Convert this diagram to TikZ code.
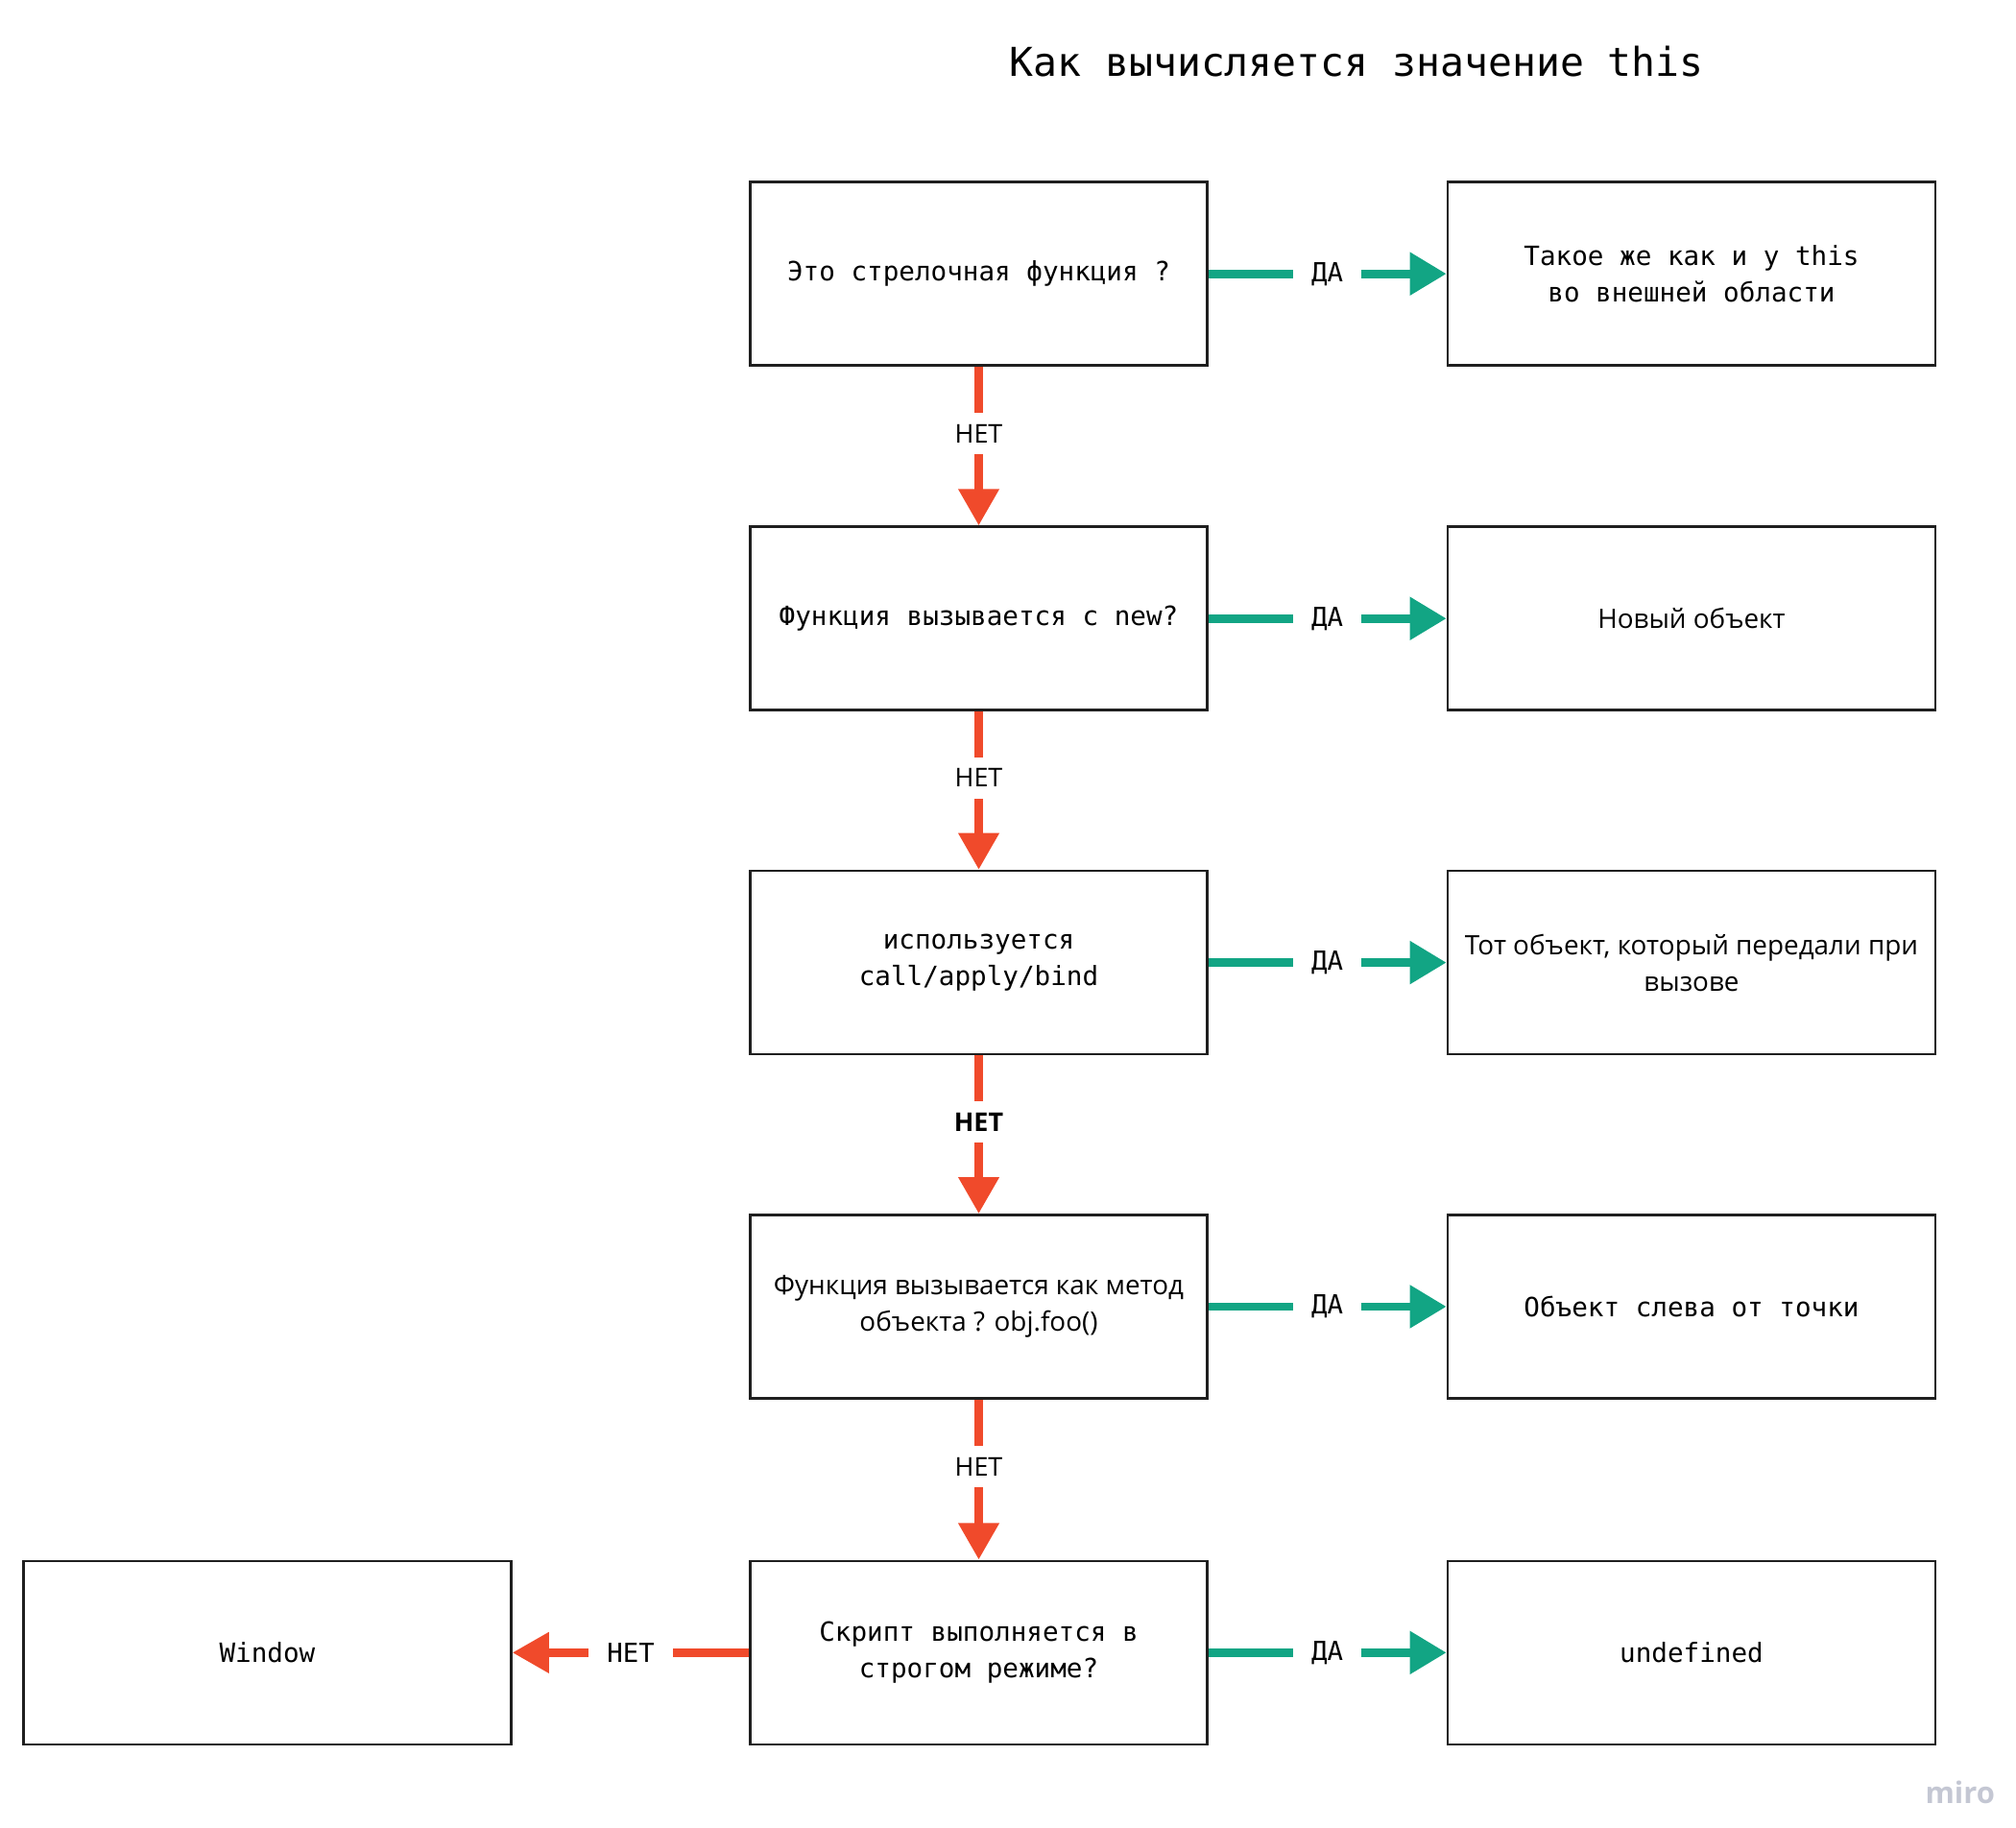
\documentclass[tikz,border=0pt]{standalone}
\usepackage{fontspec}
\setmainfont{Open Sans}
\newfontfamily\monofont{DejaVu Sans Mono}
\usetikzlibrary{arrows.meta}
\definecolor{miroGreen}{HTML}{12A584}
\definecolor{miroRed}{HTML}{F04A2B}
\definecolor{miroGray}{HTML}{C4C7D3}
\tikzset{
  box/.style={draw=black!88, line width=1.1pt, minimum width=7.02cm, minimum height=2.82cm, align=center, inner sep=0pt},
  wide/.style={box, minimum width=7.5cm},
  mono/.style={font=\monofont\fontsize{11.6}{16}\selectfont},
  sans/.style={font=\fontsize{11.7}{16}\selectfont},
  yes/.style={draw=miroGreen, line width=3.7pt, -{Triangle[length=16pt,width=18pt]}},
  no/.style={draw=miroRed, line width=3.7pt, -{Triangle[length=16pt,width=17pt]}},
  yeslabel/.style={fill=white, text=black, inner xsep=8pt, inner ysep=4pt, font=\monofont\fontsize{11.5}{14}\selectfont},
  nolabel/.style={fill=white, text=black, inner xsep=6pt, inner ysep=5pt, text height=1.5ex, text depth=0pt, font=\fontsize{11.3}{14}\selectfont}
}
\begin{document}
\begin{tikzpicture}[x=0.02cm, y=-0.02cm]
\useasboundingbox (0,0) rectangle (1550,1405.3);
\node (title) at (1043,47) {\monofont\fontsize{17.4}{20}\selectfont Как вычисляется значение this};

\node[box, mono] (q1) at (752.5,210.5) {Это стрелочная функция ?};
\node[box, mono] (q2) at (752.5,475.5) {Функция вызывается с new?};
\node[box, mono] (q3) at (752.5,740) {используется\\call/apply/bind};
\node[box, sans] (q4) at (752.5,1004.5) {Функция вызывается как метод\\объекта ? obj.foo()};
\node[box, mono] (q5) at (752.5,1270.5) {Скрипт выполняется в\\строгом режиме?};

\node[wide, mono] (a1) at (1300.5,210.5) {Такое же как и у this\\во внешней области};
\node[wide, sans] (a2) at (1300.5,475.5) {Новый объект};
\node[wide, sans] (a3) at (1300.5,740) {Тот объект, который передали при\\вызове};
\node[wide, mono] (a4) at (1300.5,1004.5) {Объект слева от точки};
\node[wide, mono] (a5) at (1300.5,1270.5) {undefined};
\node[wide, mono] (win) at (205.5,1270.5) {Window};

\draw[yes] (q1) -- node[yeslabel] {ДА} (a1);
\draw[yes] (q2) -- node[yeslabel] {ДА} (a2);
\draw[yes] (q3) -- node[yeslabel] {ДА} (a3);
\draw[yes] (q4) -- node[yeslabel] {ДА} (a4);
\draw[yes] (q5) -- node[yeslabel] {ДА} (a5);

\draw[no] (q1) -- node[nolabel, pos=.42] {НЕТ} (q2);
\draw[no] (q2) -- node[nolabel, pos=.42] {НЕТ} (q3);
\draw[no] (q3) -- node[nolabel, pos=.42, font=\bfseries\fontsize{11.3}{14}\selectfont] {НЕТ} (q4);
\draw[no] (q4) -- node[nolabel, pos=.42] {НЕТ} (q5);
\draw[no] (q5) -- node[yeslabel] {НЕТ} (win);

\node[text=miroGray, font=\bfseries\fontsize{13}{15}\selectfont] (miro) at (1507,1378) {miro};
\end{tikzpicture}
\end{document}
